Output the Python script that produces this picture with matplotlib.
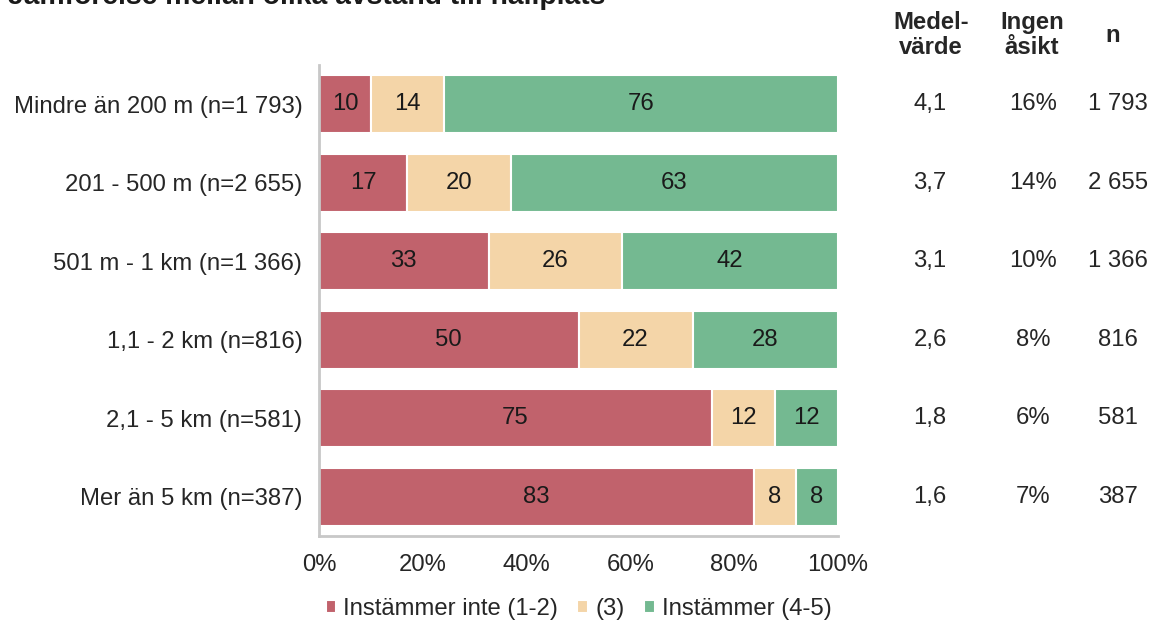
import numpy as np
import matplotlib.pyplot as plt

plt.rcParams['font.family'] = ['Liberation Sans', 'DejaVu Sans']

# data
categories = ['Mindre än 200 m (n=1 793)', '201 - 500 m (n=2 655)', '501 m - 1 km (n=1 366)',
              '1,1 - 2 km (n=816)', '2,1 - 5 km (n=581)', 'Mer än 5 km (n=387)']
inte = [10, 17, 33, 50, 75, 83]
neutral = [14, 20, 26, 22, 12, 8]
instammer = [76, 63, 42, 28, 12, 8]
medel = ['4,1', '3,7', '3,1', '2,6', '1,8', '1,6']
ingen_asikt = ['16%', '14%', '10%', '8%', '6%', '7%']
n_values = ['1 793', '2 655', '1 366', '816', '581', '387']
series_names = ['Instämmer inte (1-2)', '(3)', 'Instämmer (4-5)']
colors = ['#C1626C', '#F4D5A8', '#74B991']

fs = 17.2
txt = '#262626'

fig = plt.figure(figsize=(11.51, 6.20), dpi=100)
ax = fig.add_axes([319/1151, 84/620, 519/1151, 471/620])

vals = np.array([inte, neutral, instammer], dtype=float)
shares = vals / vals.sum(axis=0) * 100
y = np.arange(len(categories))
left = np.zeros(len(categories))
for i in range(3):
    bars = ax.barh(y, shares[i], left=left, height=0.74, color=colors[i],
                   edgecolor='white', linewidth=1.5, label=series_names[i])
    for j, b in enumerate(bars):
        ax.text(left[j] + shares[i][j] / 2, y[j], str(int(vals[i][j])),
                ha='center', va='center', fontsize=fs, color='#1a1a1a')
    left += shares[i]

ax.set_ylim(len(categories) - 0.5, -0.5)
ax.set_xlim(0, 100)
ax.set_yticks(y)
ax.set_yticklabels(categories, fontsize=fs, color=txt)
ax.set_xticks([0, 20, 40, 60, 80, 100])
ax.set_xticklabels(['0%', '20%', '40%', '60%', '80%', '100%'], fontsize=fs, color=txt)
ax.tick_params(axis='y', length=0, pad=12)
ax.tick_params(axis='x', length=0, pad=13)
for s in ['top', 'right']:
    ax.spines[s].set_visible(False)
for s in ['left', 'bottom']:
    ax.spines[s].set_color('#c8c8c8')
    ax.spines[s].set_linewidth(2)

# extra columns on the right
head_x = [931, 1032, 1113]
col_x = [930, 1033, 1118]
headers = ['Medel-\nvärde', 'Ingen\nåsikt', 'n']
for cx, h in zip(head_x, headers):
    fig.text(cx / 1151, 1 - 35 / 620, h, ha='center', va='center',
             fontsize=fs, fontweight='bold', color=txt, linespacing=1.12)
for j in range(len(categories)):
    yy = ax.transData.transform((0, y[j]))[1] / fig.bbox.height
    for cx, col in zip(col_x, [medel, ingen_asikt, n_values]):
        fig.text(cx / 1151, yy, col[j], ha='center', va='center', fontsize=fs, color=txt)

# title, cut off at the top like in the picture
fig.text(8 / 1151, 1 - 3.5 / 620, 'Jämförelse mellan olika avstånd till hållplats',
         ha='left', va='baseline', fontsize=20.3, fontweight='bold', color='#1a1a1a')

ax.legend(loc='center', bbox_to_anchor=(0.5, -0.155), ncol=3, frameon=False,
          fontsize=fs, handlelength=0.45, handleheight=0.45, handletextpad=0.3,
          columnspacing=0.8, labelcolor=txt)

fig.savefig('out.png', dpi=100)
